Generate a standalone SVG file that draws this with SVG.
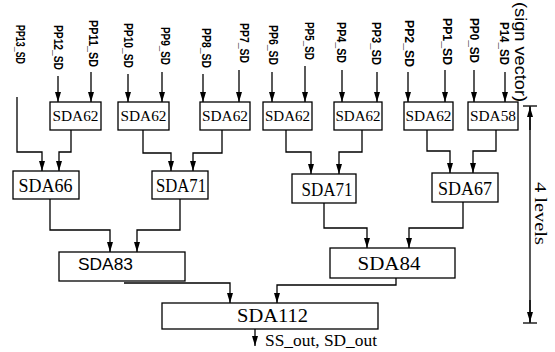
<svg xmlns="http://www.w3.org/2000/svg" width="555" height="352" viewBox="0 0 555 352">
<style>
.box{fill:#fff;stroke:#000;stroke-width:1.3}
.ln{fill:none;stroke:#000;stroke-width:1.3}
.arr{fill:none;stroke:#000;stroke-width:1.3;marker-end:url(#ah)}
.t{text-anchor:middle;fill:#000}
.s0{font-size:15px}
.s1{font-size:19px}
.lab{font-size:12.5px;font-weight:bold;fill:#000}
</style>
<defs>
<marker id="ah" markerUnits="userSpaceOnUse" markerWidth="10" markerHeight="7" refX="10" refY="3.5" orient="auto" viewBox="0 0 10 7">
<path d="M0,0.5 L10,3.5 L0,6.5 Z" fill="#000"/>
</marker>
</defs>
<rect width="555" height="352" fill="#fff"/>

<g id="inputs" font-family="Liberation Sans, Arial, sans-serif">
<text class="lab" transform="translate(16,25) rotate(90)" textLength="39" lengthAdjust="spacingAndGlyphs">PP13_SD</text>
<text class="lab" transform="translate(53.5,25) rotate(90)" textLength="45" lengthAdjust="spacingAndGlyphs">PP12_SD</text>
<text class="lab" transform="translate(88.5,20) rotate(90)" textLength="47" lengthAdjust="spacingAndGlyphs">PP11_SD</text>
<text class="lab" transform="translate(123.5,23) rotate(90)" textLength="45" lengthAdjust="spacingAndGlyphs">PP10_SD</text>
<text class="lab" transform="translate(160.5,27) rotate(90)" textLength="38" lengthAdjust="spacingAndGlyphs">PP9_SD</text>
<text class="lab" transform="translate(201.5,28) rotate(90)" textLength="40" lengthAdjust="spacingAndGlyphs">PP8_SD</text>
<text class="lab" transform="translate(239.5,23) rotate(90)" textLength="40" lengthAdjust="spacingAndGlyphs">PP7_SD</text>
<text class="lab" transform="translate(268.5,25) rotate(90)" textLength="40" lengthAdjust="spacingAndGlyphs">PP6_SD</text>
<text class="lab" transform="translate(304.5,22) rotate(90)" textLength="38" lengthAdjust="spacingAndGlyphs">PP5_SD</text>
<text class="lab" transform="translate(336.5,22) rotate(90)" textLength="41" lengthAdjust="spacingAndGlyphs">PP4_SD</text>
<text class="lab" transform="translate(371.5,22) rotate(90)" textLength="43" lengthAdjust="spacingAndGlyphs">PP3_SD</text>
<text class="lab" transform="translate(404.5,20) rotate(90)" textLength="47" lengthAdjust="spacingAndGlyphs">PP2_SD</text>
<text class="lab" transform="translate(442.5,18) rotate(90)" textLength="47" lengthAdjust="spacingAndGlyphs">PP1_SD</text>
<text class="lab" transform="translate(469.5,18) rotate(90)" textLength="45" lengthAdjust="spacingAndGlyphs">PP0_SD</text>
<text class="lab" transform="translate(499.5,22) rotate(90)" textLength="43" lengthAdjust="spacingAndGlyphs">P14_SD</text>
<text transform="translate(515,2) rotate(90)" font-size="17" textLength="100" lengthAdjust="spacingAndGlyphs">(sign vector)</text>
</g>

<g id="connectors">
<line class="arr" x1="58" y1="76" x2="58" y2="102"/>
<line class="arr" x1="91" y1="72" x2="91" y2="102"/>
<line class="arr" x1="128" y1="74" x2="128" y2="102"/>
<line class="arr" x1="162" y1="72" x2="162" y2="102"/>
<line class="arr" x1="203" y1="74" x2="203" y2="102"/>
<line class="arr" x1="239" y1="70" x2="239" y2="102"/>
<line class="arr" x1="272" y1="72" x2="272" y2="102"/>
<line class="arr" x1="305" y1="66" x2="305" y2="102"/>
<line class="arr" x1="342" y1="70" x2="342" y2="102"/>
<line class="arr" x1="377" y1="72" x2="377" y2="102"/>
<line class="arr" x1="408" y1="72" x2="408" y2="102"/>
<line class="arr" x1="445" y1="70" x2="445" y2="102"/>
<line class="arr" x1="474" y1="70" x2="474" y2="102"/>
<line class="arr" x1="505" y1="72" x2="505" y2="102"/>

<path class="arr" d="M17,97 V152 H42 V171"/>
<path class="arr" d="M71,130 V152 H59 V171"/>
<path class="arr" d="M143,130 V153 H171 V171"/>
<path class="arr" d="M222,130 V153 H193 V171"/>
<path class="arr" d="M286,130 V152 H311 V174"/>
<path class="arr" d="M362,130 V152 H339 V174"/>
<path class="arr" d="M427,130 V151 H450 V173"/>
<path class="arr" d="M496,130 V151 H473 V173"/>

<path class="arr" d="M50,199 V230 H110 V252"/>
<path class="arr" d="M180,199 V230 H137 V252"/>
<path class="arr" d="M324,203 V228 H367 V248"/>
<path class="arr" d="M463,202 V228 H409 V248"/>

<path class="arr" d="M124,283 H230 V303"/>
<path class="arr" d="M396,278 V285 H277 V303"/>
<line class="arr" x1="255" y1="329" x2="255" y2="346"/>

<line class="ln" x1="530" y1="106" x2="530" y2="323"/>
<line class="ln" x1="523" y1="106" x2="537" y2="106"/>
<line class="ln" x1="523" y1="323" x2="537" y2="323"/>
<line class="arr" x1="530" y1="130" x2="530" y2="107"/>
<line class="arr" x1="530" y1="300" x2="530" y2="322"/>
<text transform="translate(535,182) rotate(90)" font-family="Liberation Serif, Times New Roman, serif" font-size="17" textLength="63" lengthAdjust="spacingAndGlyphs">4 levels</text>
</g>

<g id="nodes" font-family="Liberation Serif, Times New Roman, serif">
<g id="sda62_a"><rect class="box" x="50" y="102" width="51" height="28"/><text class="t s0" x="75.5" y="121" textLength="46" lengthAdjust="spacingAndGlyphs">SDA62</text></g>
<g id="sda62_b"><rect class="box" x="118" y="102" width="51" height="28"/><text class="t s0" x="143.5" y="121" textLength="46" lengthAdjust="spacingAndGlyphs">SDA62</text></g>
<g id="sda62_c"><rect class="box" x="200" y="102" width="50" height="28"/><text class="t s0" x="225" y="121" textLength="46" lengthAdjust="spacingAndGlyphs">SDA62</text></g>
<g id="sda62_d"><rect class="box" x="263" y="102" width="49" height="28"/><text class="t s0" x="287.5" y="121" textLength="45" lengthAdjust="spacingAndGlyphs">SDA62</text></g>
<g id="sda62_e"><rect class="box" x="334" y="102" width="48" height="28"/><text class="t s0" x="358" y="121" textLength="45" lengthAdjust="spacingAndGlyphs">SDA62</text></g>
<g id="sda62_f"><rect class="box" x="404" y="102" width="49" height="28"/><text class="t s0" x="428.5" y="121" textLength="46" lengthAdjust="spacingAndGlyphs">SDA62</text></g>
<g id="sda58"><rect class="box" x="468" y="102" width="50" height="28"/><text class="t s0" x="493" y="121" textLength="46" lengthAdjust="spacingAndGlyphs">SDA58</text></g>

<g id="sda66"><rect class="box" x="13" y="171" width="66" height="28"/><text class="t s1" x="45.5" y="192" textLength="54" lengthAdjust="spacingAndGlyphs">SDA66</text></g>
<g id="sda71_a"><rect class="box" x="152" y="171" width="56" height="28"/><text class="t s1" x="181" y="192" textLength="50" lengthAdjust="spacingAndGlyphs">SDA71</text></g>
<g id="sda71_b"><rect class="box" x="292" y="174" width="64" height="29"/><text class="t s1" x="327" y="196" textLength="51" lengthAdjust="spacingAndGlyphs">SDA71</text></g>
<g id="sda67"><rect class="box" x="432" y="173" width="66" height="29"/><text class="t s1" x="465" y="195" textLength="54" lengthAdjust="spacingAndGlyphs">SDA67</text></g>

<g id="sda83"><rect class="box" x="59" y="252" width="126" height="29"/><text x="78" y="270" font-family="Liberation Sans, Arial, sans-serif" font-size="17" textLength="55" lengthAdjust="spacingAndGlyphs">SDA83</text></g>
<g id="sda84"><rect class="box" x="330" y="248" width="125" height="30"/><text class="t s1" x="389" y="270" textLength="63" lengthAdjust="spacingAndGlyphs">SDA84</text></g>

<g id="sda112"><rect class="box" x="162" y="303" width="216" height="26"/><text class="t s1" x="272.5" y="322" textLength="71" lengthAdjust="spacingAndGlyphs">SDA112</text></g>
<g id="output"><text x="265" y="346" font-size="16.5" textLength="112" lengthAdjust="spacingAndGlyphs">SS_out, SD_out</text></g>
</g>
</svg>
